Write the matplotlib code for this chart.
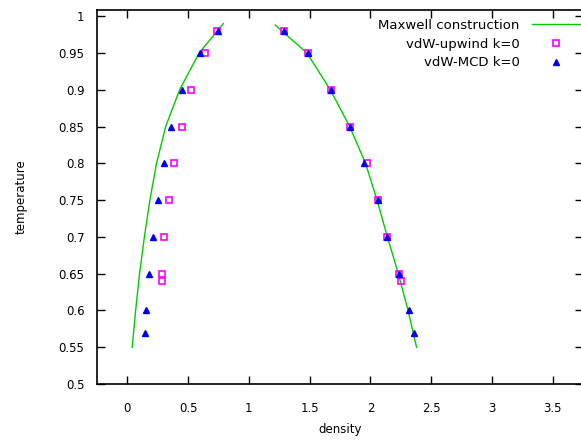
import matplotlib
matplotlib.use("Agg")
import matplotlib.pyplot as plt

# Maxwell construction (coexistence curve)
maxwell_gas_rho = [0.04, 0.068, 0.10, 0.14, 0.185, 0.24, 0.315, 0.43, 0.59, 0.79]
maxwell_gas_t = [0.55, 0.60, 0.65, 0.70, 0.75, 0.80, 0.85, 0.90, 0.95, 0.99]
maxwell_liq_rho = [1.217, 1.478, 1.67, 1.83, 1.96, 2.055, 2.14, 2.23, 2.31, 2.38]
maxwell_liq_t = [0.988, 0.95, 0.90, 0.85, 0.80, 0.75, 0.70, 0.65, 0.60, 0.55]

# vdW-upwind k=0
upwind_t = [0.98, 0.95, 0.90, 0.85, 0.80, 0.75, 0.70, 0.65, 0.64]
upwind_gas = [0.74, 0.64, 0.524, 0.45, 0.387, 0.34, 0.304, 0.285, 0.285]
upwind_liq = [1.29, 1.49, 1.675, 1.83, 1.97, 2.06, 2.14, 2.235, 2.25]

# vdW-MCD k=0
mcd_t = [0.98, 0.95, 0.90, 0.85, 0.80, 0.75, 0.70, 0.65, 0.60, 0.57]
mcd_gas = [0.743, 0.60, 0.45, 0.36, 0.30, 0.25, 0.208, 0.175, 0.156, 0.142]
mcd_liq = [1.29, 1.49, 1.675, 1.83, 1.95, 2.06, 2.14, 2.235, 2.32, 2.36]

x_ticks = [0, 0.5, 1, 1.5, 2, 2.5, 3, 3.5]
x_labels = ["0", "0.5", "1", "1.5", "2", "2.5", "3", "3.5"]
y_ticks = [0.5, 0.55, 0.6, 0.65, 0.7, 0.75, 0.8, 0.85, 0.9, 0.95, 1.0]
y_labels = ["0.5", "0.55", "0.6", "0.65", "0.7", "0.75", "0.8", "0.85", "0.9", "0.95", "1"]

green = "#00cc00"
magenta = "#ff00ff"
blue = "#0000ee"

fig = plt.figure(figsize=(5.81, 4.41), dpi=100)
ax = fig.add_axes([97 / 581, 57 / 441, 486 / 581, 374 / 441])

ax.plot(maxwell_gas_rho, maxwell_gas_t, color=green, lw=1.0, label="Maxwell construction")
ax.plot(maxwell_liq_rho, maxwell_liq_t, color=green, lw=1.0)

ax.plot(upwind_gas + upwind_liq, upwind_t + upwind_t, ls="none", marker="s",
        ms=4.5, mfc="none", mec=magenta, mew=1.2, label="vdW-upwind k=0")
ax.plot(mcd_gas + mcd_liq, mcd_t + mcd_t, ls="none", marker="^",
        ms=4.5, color=blue, label="vdW-MCD k=0")

ax.set_xlim(-0.25, 3.75)
ax.set_ylim(0.5, 1.0085)
ax.set_xticks(x_ticks)
ax.set_xticklabels(x_labels)
ax.set_yticks(y_ticks)
ax.set_yticklabels(y_labels)
ax.tick_params(axis="both", direction="in", length=6, width=1, top=True, right=True,
               labelsize=8.5)
ax.tick_params(axis="x", pad=13)
ax.tick_params(axis="y", pad=9)
for s in ax.spines.values():
    s.set_linewidth(1.2)

ax.set_xlabel("density", fontsize=8.5, labelpad=6)
ax.set_ylabel("temperature", fontsize=8.5, labelpad=22)

ax.legend(loc="upper right", bbox_to_anchor=(1.0, 0.984), frameon=False,
          markerfirst=False, fontsize=9.5, handlelength=3.7, handletextpad=0.9,
          labelspacing=0.45, borderaxespad=0.0, borderpad=0.2)

fig.savefig("out.png", dpi=100)
